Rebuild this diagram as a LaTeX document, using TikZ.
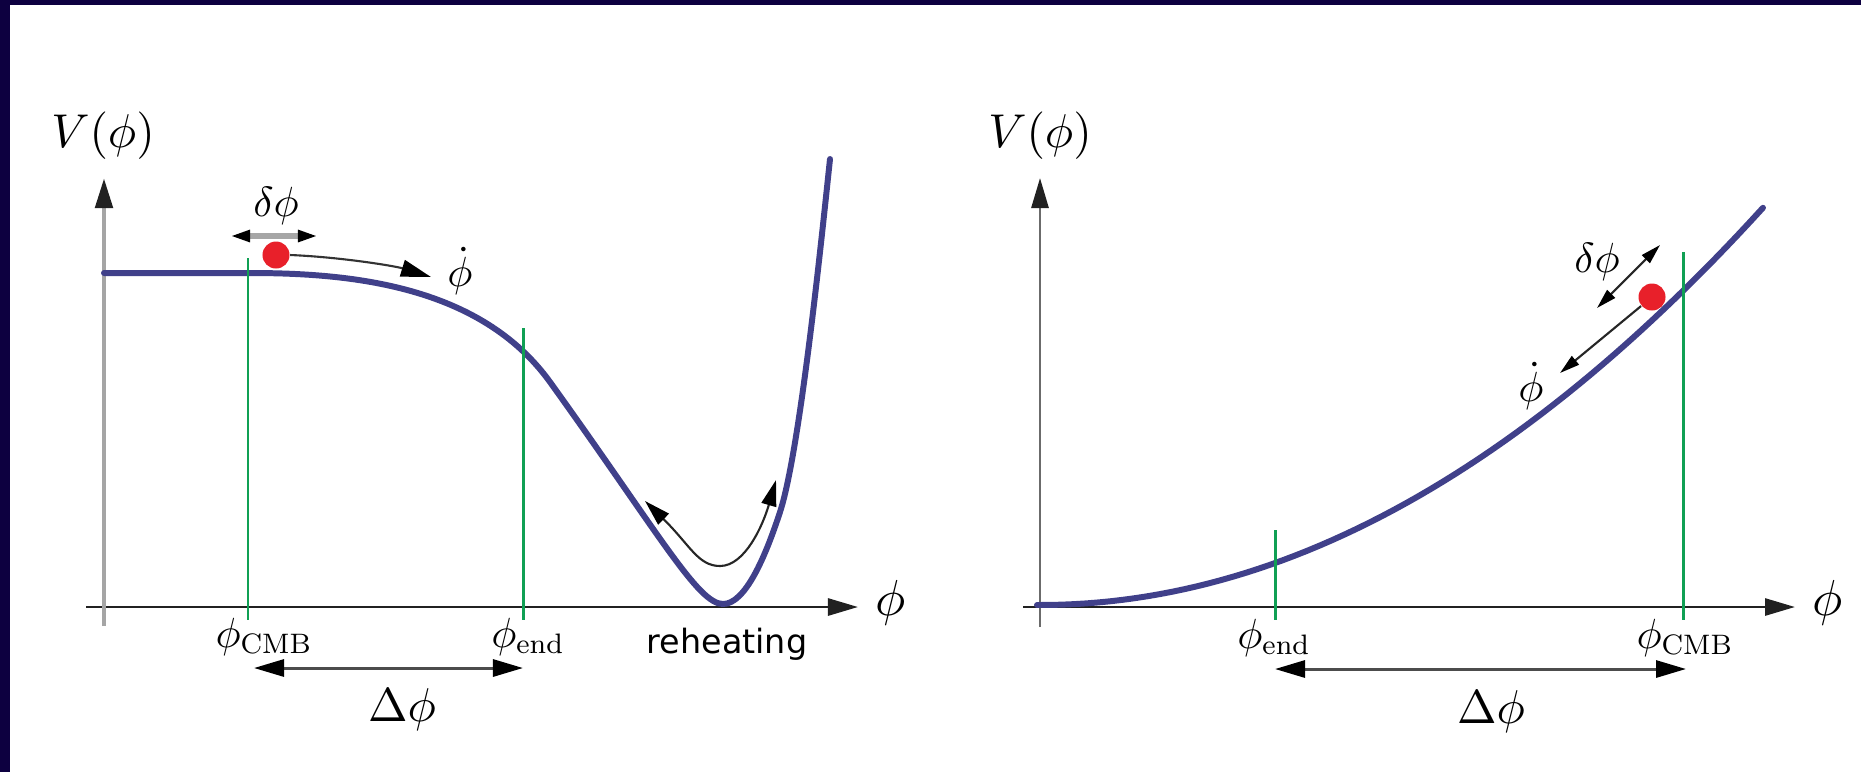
\documentclass[tikz,border=0pt]{standalone}
\usepackage{fontspec}
\newfontfamily\reheatfont{DejaVu Sans}
\usepackage{xcolor}
\usepackage{tikz}
\usetikzlibrary{arrows.meta}
% scalable math fonts
\DeclareFontShape{OML}{cmm}{m}{it}{<->cmmi10}{}
\DeclareFontShape{OT1}{cmr}{m}{n}{<->cmr10}{}
\DeclareFontShape{OMS}{cmsy}{m}{n}{<->cmsy10}{}

\definecolor{frameblue}{RGB}{13,0,64}
\definecolor{potblue}{RGB}{64,64,138}
\definecolor{markgreen}{RGB}{16,160,84}
\definecolor{ballred}{RGB}{232,32,42}
\definecolor{axisgreyL}{RGB}{165,165,165}
\definecolor{axisgreyR}{RGB}{107,107,107}

\newcommand\lblV{\fontsize{13.5}{16}\selectfont}
\newcommand\lblAxis{\fontsize{14.4}{17}\selectfont}
\newcommand\lblTick{\fontsize{12}{14}\selectfont}
\newcommand\lblSpan{\fontsize{13.5}{16}\selectfont}
\newcommand\lblSmall{\fontsize{12}{14}\selectfont}

\begin{document}
\begin{tikzpicture}[x=0.01cm, y=-0.01cm,
    axis/.style={line width=0.8pt, draw=black!87,
      -{Triangle[length=0.3cm, width=0.17cm, color=black!87]}},
    potential/.style={line width=1.7pt, draw=potblue, line join=round, line cap=round},
    marker/.style={line width=0.85pt, draw=markgreen},
    ball/.style={circle, fill=ballred, inner sep=0pt, minimum size=0.27cm},
    span/.style={line width=0.85pt, draw=black!70,
      {Triangle[length=0.3cm, width=0.17cm, color=black]}-{Triangle[length=0.3cm, width=0.17cm, color=black]}},
    kick/.style={line width=0.6pt, draw=black!80,
      -{Triangle[length=0.3cm, width=0.17cm, color=black]}},
    smallkick/.style={line width=0.6pt, draw=black!85,
      -{Triangle[length=0.2cm, width=0.11cm, color=black]}},
    spread/.style={line width=0.6pt, draw=black!85,
      {Triangle[length=0.2cm, width=0.11cm, color=black]}-{Triangle[length=0.2cm, width=0.11cm, color=black]}}
  ]
    \useasboundingbox (0,0) rectangle (1861,772);
    % Frame
    \fill[frameblue] (0,0) rectangle (1861,5);
    \fill[frameblue] (0,0) rectangle (10,772);

    % ---------- Left: inflation ending in a minimum ----------
    % Axes
    \coordinate (xL0) at (86,607);
    \coordinate (xL1) at (858,607);
    \coordinate (yL0) at (104,626);
    \coordinate (yL1) at (104,178);
    \draw[axis] (xL0) -- (xL1);
    \draw[axis, draw=axisgreyL, line width=1.4pt] (yL0) -- (yL1);
    \node[font=\lblV] (VL) at (103,136) {$V(\phi)$};
    \node[font=\lblAxis] (phiL) at (891,603) {$\phi$};
    % Potential
    \draw[potential] (104,273) -- (250,273)
      .. controls (350,273) and (480,285) .. (550,382)
      .. controls (660,535) and (698,604) .. (723,604)
      .. controls (745,604) and (765,558) .. (780,512)
      .. controls (800,451) and (822,234) .. (830,159);
    % Markers
    \coordinate (cmbLtop) at (248,258);
    \coordinate (cmbLbot) at (248,620);
    \coordinate (endLtop) at (523,328);
    \coordinate (endLbot) at (523,620);
    \draw[marker] (cmbLtop) -- (cmbLbot);
    \draw[marker] (endLtop) -- (endLbot);
    \node[font=\lblTick] (cmbL) at (264,637) {$\phi_{\mathrm{CMB}}$};
    \node[font=\lblTick] (endL) at (528,637) {$\phi_{\mathrm{end}}$};
    % Field range
    \coordinate (spanL0) at (254,668);
    \coordinate (spanL1) at (523,668);
    \draw[span] (spanL0) -- (spanL1);
    \node[font=\lblSpan] (DphiL) at (402,710) {$\Delta\phi$};
    % Ball, fluctuation and velocity
    \node[ball] (ballL) at (276,255) {};
    \coordinate (flucL0) at (230,236);
    \coordinate (flucL1) at (318,236);
    \draw[line width=1.6pt, draw=black!35,
      {Triangle[length=0.2cm, width=0.11cm, color=black]}-{Triangle[length=0.2cm, width=0.11cm, color=black]}]
      (flucL0) -- (flucL1);
    \node[font=\lblSmall] (dphiL) at (276,206) {$\delta\phi$};
    \coordinate (tipL) at (431,277);
    \draw[kick] (ballL.east) .. controls (340,257) and (395,266) .. (tipL);
    \node[font=\lblSmall] (phidotL) at (460,271) {$\dot\phi$};
    % Oscillation
    \coordinate (osc0) at (645,501);
    \coordinate (osc1) at (776,480);
    \draw[line width=0.6pt, draw=black!85,
      {Triangle[length=0.26cm, width=0.15cm, color=black]}-{Triangle[length=0.26cm, width=0.15cm, color=black]}]
      (osc0) .. controls (690,545) and (698,566) .. (720,566)
      .. controls (745,566) and (763,525) .. (osc1);
    \node[font=\reheatfont\fontsize{9.5}{11}\selectfont] (reheat) at (727,644) {reheating};

    % ---------- Right: large-field monomial ----------
    % Axes
    \coordinate (xR0) at (1023,607);
    \coordinate (xR1) at (1795,607);
    \coordinate (yR0) at (1040,627);
    \coordinate (yR1) at (1040,178);
    \draw[axis] (xR0) -- (xR1);
    \draw[axis, draw=axisgreyR] (yR0) -- (yR1);
    \node[font=\lblV] (VR) at (1040,136) {$V(\phi)$};
    \node[font=\lblAxis] (phiR) at (1828,603) {$\phi$};
    % Potential
    \draw[potential] plot[domain=-0.03:7.23, samples=60] ({1040+100*\x}, {605-7.6*\x*\x});
    % Markers
    \coordinate (endRtop) at (1275,530);
    \coordinate (endRbot) at (1275,620);
    \coordinate (cmbRtop) at (1683,252);
    \coordinate (cmbRbot) at (1683,620);
    \draw[marker] (endRtop) -- (endRbot);
    \draw[marker] (cmbRtop) -- (cmbRbot);
    \node[font=\lblTick] (endR) at (1274,638) {$\phi_{\mathrm{end}}$};
    \node[font=\lblTick] (cmbR) at (1685,638) {$\phi_{\mathrm{CMB}}$};
    % Field range
    \coordinate (spanR0) at (1275,669);
    \coordinate (spanR1) at (1686,669);
    \draw[span] (spanR0) -- (spanR1);
    \node[font=\lblSpan] (DphiR) at (1491,712) {$\Delta\phi$};
    % Ball, fluctuation and velocity
    \node[ball] (ballR) at (1652,297) {};
    \coordinate (flucR0) at (1597,308);
    \coordinate (flucR1) at (1660,245);
    \draw[spread] (flucR0) -- (flucR1);
    \node[font=\lblSmall] (dphiR) at (1597,262) {$\delta\phi$};
    \coordinate (tipR) at (1560,373);
    \draw[smallkick] (ballR) -- (tipR);
    \node[font=\lblSmall] (phidotR) at (1531,386) {$\dot\phi$};
\end{tikzpicture}
\end{document}
